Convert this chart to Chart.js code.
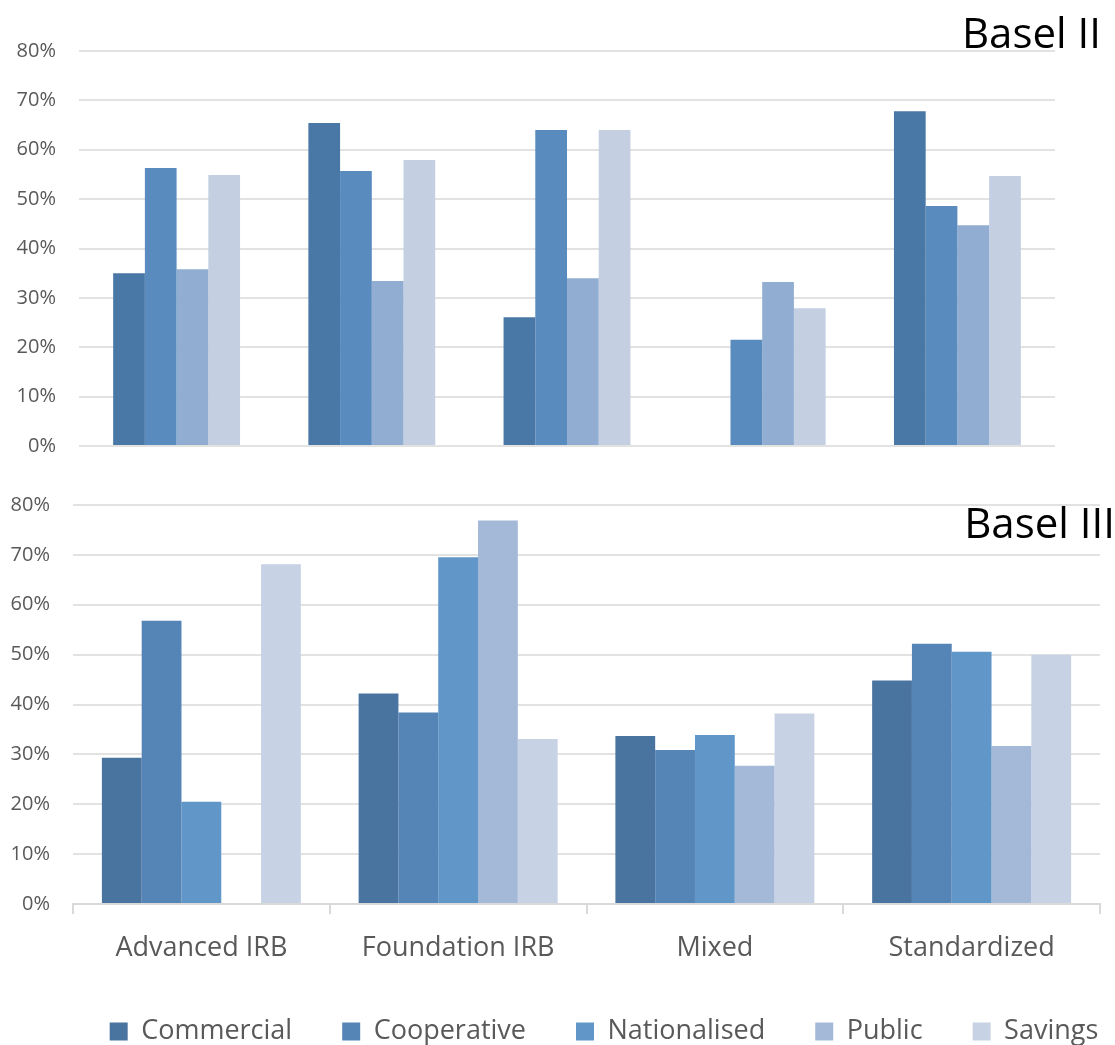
<!DOCTYPE html>
<html>
<head>
<meta charset="utf-8">
<script src="https://cdn.jsdelivr.net/npm/chart.js@4/dist/chart.umd.min.js"></script>
<style>
  html, body { margin: 0; padding: 0; background: #fff; overflow: hidden; }
  body { width: 1115px; height: 1045px; position: relative; }
  .box { position: absolute; left: 0; width: 1115px; }
  #boxTop { top: 0; height: 481px; }
  #boxBottom { top: 470px; height: 585px; }
  .etichetta { position: absolute; font-family: "Open Sans", sans-serif; font-size: 42px; color: #000; line-height: 1; }
</style>
</head>
<body>
<div class="box" id="boxTop"><canvas id="graficoBasel2"></canvas></div>
<div class="box" id="boxBottom"><canvas id="graficoBasel3"></canvas></div>
<div class="etichetta" style="top:11px; right:14px;">Basel II</div>
<div class="etichetta" style="top:501px; right:0px;">Basel III</div>

<script>
// Categorie
const categorieBasel2 = ['', '', '', '', ''];
const categorieBasel3 = ['Advanced IRB', 'Foundation IRB', 'Mixed', 'Standardized'];
const tickY = [0, 10, 20, 30, 40, 50, 60, 70, 80];

// Basel II (valori in %)
const commercialeB2 = [35.0, 65.4, 26.1, null, 67.8];
const cooperativaB2 = [56.3, 55.7, 64.0, 21.5, 48.6];
const pubblicaB2    = [35.8, 33.4, 34.0, 33.2, 44.7];
const risparmioB2   = [54.9, 57.9, 64.0, 27.9, 54.7];

// Basel III (valori in %)
const commercialeB3    = [29.3, 42.2, 33.7, 44.8];
const cooperativaB3    = [56.8, 38.4, 30.9, 52.2];
const nazionalizzataB3 = [20.5, 69.5, 33.9, 50.6];
const pubblicaB3       = [null, 76.9, 27.7, 31.7];
const risparmioB3      = [68.1, 33.1, 38.2, 50.0];

const coloreTesto = '#595959';
const coloreGriglia = '#e2e2e2';

const scalaY = (larghezza) => ({
    min: 0,
    max: 80,
    afterBuildTicks: (s) => { s.ticks = tickY.map(v => ({ value: v })); },
    afterFit: (s) => { s.width = larghezza; },   // larghezza fissa per allineare l'area del grafico
    grid: { color: coloreGriglia, lineWidth: 2, drawTicks: false },
    border: { display: false },
    ticks: {
        padding: 23,
        color: coloreTesto,
        font: { family: 'Open Sans', size: 20 },
        callback: (v) => v + '%'
    }
});

const dataset = (label, data, colore) => ({
    label: label,
    data: data,
    backgroundColor: colore,
    borderWidth: 0,
    barPercentage: 1.0
});

// Grafico Basel II
new Chart(document.getElementById('graficoBasel2').getContext('2d'), {
    type: 'bar',
    data: {
        labels: categorieBasel2,
        datasets: [
            dataset('Commercial', commercialeB2, '#4a78a6'),
            dataset('Cooperative', cooperativaB2, '#5a8bbf'),
            dataset('Public', pubblicaB2, '#91aed2'),
            dataset('Savings', risparmioB2, '#c4cfe2')
        ]
    },
    options: {
        responsive: true,
        maintainAspectRatio: false,
        animation: false,
        categoryPercentage: 0.65,
        layout: { padding: { top: 51, right: 60, bottom: 0, left: 0 } },
        scales: {
            x: { display: false },
            y: scalaY(79)
        },
        plugins: { legend: { display: false }, tooltip: { enabled: false } }
    }
});

// sposta la legenda verso destra come nell'originale
const spostaLegenda = {
    id: 'spostaLegenda',
    afterLayout: (chart) => {
        if (chart.legend) {
            chart.legend.left += 54;
            chart.legend.right += 54;
        }
    }
};

// Grafico Basel III
new Chart(document.getElementById('graficoBasel3').getContext('2d'), {
    type: 'bar',
    data: {
        labels: categorieBasel3,
        datasets: [
            dataset('Commercial', commercialeB3, '#4a74a0'),
            dataset('Cooperative', cooperativaB3, '#5585b7'),
            dataset('Nationalised', nazionalizzataB3, '#6096c8'),
            dataset('Public', pubblicaB3, '#a4b8d8'),
            dataset('Savings', risparmioB3, '#c7d2e4')
        ]
    },
    options: {
        responsive: true,
        maintainAspectRatio: false,
        animation: false,
        categoryPercentage: 0.775,
        layout: { padding: { top: 35, right: 15, bottom: 0, left: 0 } },
        scales: {
            x: {
                afterFit: (s) => { s.height = 64; },
                grid: { color: '#d9d9d9', lineWidth: 2, drawOnChartArea: false, drawTicks: true, tickLength: 10 },
                border: { color: '#d9d9d9', width: 2 },
                ticks: { padding: 18, color: coloreTesto, font: { family: 'Open Sans', size: 27 } }
            },
            y: scalaY(73)
        },
        plugins: {
            tooltip: { enabled: false },
            legend: {
                position: 'bottom',
                labels: { boxWidth: 18, boxHeight: 18, padding: 50, color: coloreTesto, font: { family: 'Open Sans', size: 27 } }
            }
        }
    },
    plugins: [spostaLegenda]
});
</script>
</body>
</html>
